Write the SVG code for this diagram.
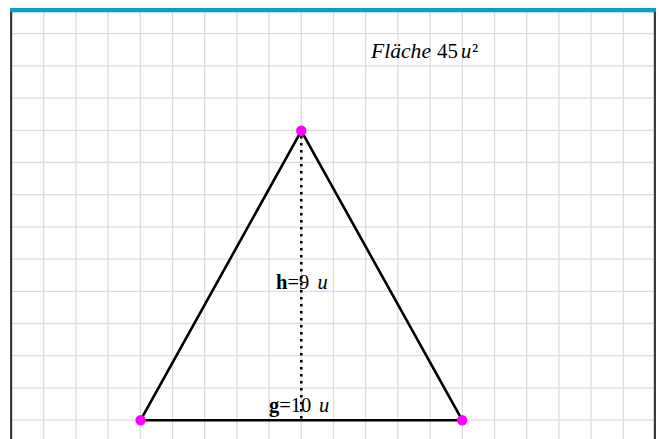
<svg xmlns="http://www.w3.org/2000/svg" width="662" height="439" viewBox="0 0 662 439">
<style>
.grid{stroke:#dcdcdc;stroke-width:1.3;fill:none}
.edge{stroke:#000;stroke-width:2.6;fill:none;stroke-linecap:round}
.height{stroke:#000;stroke-width:2.6;stroke-dasharray:2.4 4.6;fill:none}
.pt{fill:#ff00ff}
.t{font-family:"Liberation Serif","Times New Roman",serif;font-size:20.5px;fill:#000}
.i{font-style:italic}
.b{font-weight:bold}
</style>
<rect x="0" y="0" width="662" height="439" fill="#fff"/>
<g id="grid">
<path class="grid" d="M43.7 12V439M75.9 12V439M108.1 12V439M140.3 12V439M172.5 12V439M204.7 12V439M236.9 12V439M269.1 12V439M301.3 12V439M333.5 12V439M365.7 12V439M397.9 12V439M430.1 12V439M462.3 12V439M494.5 12V439M526.7 12V439M558.9 12V439M591.1 12V439M623.3 12V439"/>
<path class="grid" d="M12 33.7H654M12 65.9H654M12 98.1H654M12 130.3H654M12 162.5H654M12 194.7H654M12 226.9H654M12 259.1H654M12 291.3H654M12 323.5H654M12 355.7H654M12 387.9H654M12 420.1H654"/>
</g>
<g id="frame">
<rect x="10" y="8" width="646" height="4.3" fill="#0a9fcb"/>
<rect x="10" y="12" width="2.2" height="427" fill="#3a3a3a"/>
<rect x="653.8" y="12" width="2.2" height="427" fill="#3a3a3a"/>
</g>
<g id="connectors">
<line id="edge-ab" class="edge" x1="140.6" y1="420.2" x2="462.2" y2="420.2"/>
<line id="edge-bc" class="edge" x1="462.2" y1="420.2" x2="301.3" y2="130.8"/>
<line id="edge-ca" class="edge" x1="301.3" y1="130.8" x2="140.6" y2="420.2"/>
<line id="height-h" class="height" x1="301.3" y1="136" x2="301.3" y2="420.2"/>
</g>
<g id="node-A"><circle class="pt" cx="140.6" cy="420.2" r="5.2"/></g>
<g id="node-B"><circle class="pt" cx="462.2" cy="420.2" r="5.2"/></g>
<g id="node-C"><circle class="pt" cx="301.3" cy="130.8" r="5.2"/></g>
<g id="label-area">
<text class="t" y="57.5"><tspan class="i" x="371" textLength="60" lengthAdjust="spacingAndGlyphs">Fläche</tspan><tspan x="437" textLength="21" lengthAdjust="spacingAndGlyphs">45</tspan><tspan class="i" x="461">u</tspan><tspan x="472">²</tspan></text>
</g>
<g id="label-h">
<text class="t" y="289"><tspan class="b" x="276">h</tspan><tspan>=9</tspan><tspan class="i" x="317.5">u</tspan></text>
</g>
<g id="label-g">
<text class="t" y="412"><tspan class="b" x="269">g</tspan><tspan>=10</tspan><tspan class="i" x="319">u</tspan></text>
</g>
</svg>
